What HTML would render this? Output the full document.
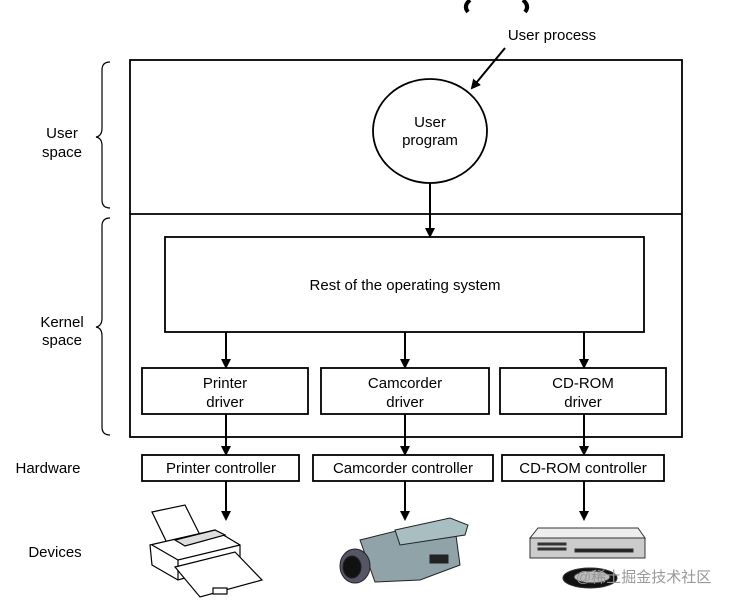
<!DOCTYPE html>
<html><head><meta charset="utf-8"><style>
body{margin:0;background:#fff;}
svg{display:block;}
text{font-family:"Liberation Sans","Noto Sans CJK SC",sans-serif;font-size:15px;fill:#000;}
</style></head><body>
<svg width="733" height="602" viewBox="0 0 733 602" xmlns="http://www.w3.org/2000/svg">
<defs><marker id="a" markerWidth="10" markerHeight="10" refX="8" refY="5" orient="auto" markerUnits="userSpaceOnUse"><path d="M0,0 L10,5 L0,10 z" fill="#000"/></marker></defs>
<!-- partial (a) -->
<path d="M470,0 Q463,6 468,12" stroke="#000" stroke-width="4" fill="none"/>
<path d="M523,0 Q530,6 525,12" stroke="#000" stroke-width="4" fill="none"/>
<g stroke="#000" stroke-width="1.8" fill="none">
<rect x="130" y="60" width="552" height="377"/>
<line x1="130" y1="214" x2="682" y2="214"/>
<ellipse cx="430" cy="131" rx="57" ry="52" fill="#fff"/>
<rect x="165" y="237" width="479" height="95"/>
<rect x="142" y="368" width="166" height="46"/>
<rect x="321" y="368" width="168" height="46"/>
<rect x="500" y="368" width="166" height="46"/>
<rect x="142" y="455" width="157" height="26"/>
<rect x="313" y="455" width="180" height="26"/>
<rect x="502" y="455" width="162" height="26"/>
<path d="M110,62 Q102,62 102,70 L102,128 Q102,136 96,137 Q102,138 102,146 L102,200 Q102,208 110,208" stroke-width="1.2"/>
<path d="M110,218 Q102,218 102,226 L102,318 Q102,326 96,327 Q102,328 102,336 L102,427 Q102,435 110,435" stroke-width="1.2"/>
</g>
<g stroke="#000" stroke-width="2" marker-end="url(#a)">
<line x1="505" y1="48" x2="472" y2="88"/>
<line x1="430" y1="183" x2="430" y2="236"/>
<line x1="226" y1="332" x2="226" y2="367"/>
<line x1="405" y1="332" x2="405" y2="367"/>
<line x1="584" y1="332" x2="584" y2="367"/>
<line x1="226" y1="414" x2="226" y2="454"/>
<line x1="405" y1="414" x2="405" y2="454"/>
<line x1="584" y1="414" x2="584" y2="454"/>
<line x1="226" y1="481" x2="226" y2="519"/>
<line x1="405" y1="481" x2="405" y2="519"/>
<line x1="584" y1="481" x2="584" y2="519"/>
</g>
<g text-anchor="middle">
<text x="552" y="40">User process</text>
<text x="430" y="127">User</text>
<text x="430" y="145">program</text>
<text x="405" y="290">Rest of the operating system</text>
<text x="225" y="388">Printer</text><text x="225" y="407">driver</text>
<text x="405" y="388">Camcorder</text><text x="405" y="407">driver</text>
<text x="583" y="388">CD-ROM</text><text x="583" y="407">driver</text>
<text x="221" y="473">Printer controller</text>
<text x="403" y="473">Camcorder controller</text>
<text x="583" y="473">CD-ROM controller</text>
<text x="62" y="138">User</text><text x="62" y="157">space</text>
<text x="62" y="327">Kernel</text><text x="62" y="345">space</text>
<text x="48" y="473">Hardware</text>
<text x="55" y="557">Devices</text>
</g>
<!-- printer -->
<g stroke="#000" stroke-width="1.2" fill="#fff">
<path d="M152,512 L185,505 L200,535 L168,545 z"/>
<path d="M150,545 L215,530 L240,545 L240,562 L178,580 L152,565 z"/>
<path d="M152,545 L178,560 L240,545"/>
<path d="M178,560 L178,580"/>
<path d="M175,567 L235,552 L262,580 L200,597 z"/>
<rect x="213" y="588" width="14" height="6"/>
<path d="M175,540 L215,530 L225,535 L185,546 z" fill="#ddd"/>
</g>
<!-- camcorder -->
<g stroke="#222" stroke-width="1">
<path d="M360,540 L420,525 L455,528 L460,565 L420,580 L375,582 Z" fill="#8fa3a8"/>
<path d="M395,530 L450,518 L468,525 L465,535 L400,545 Z" fill="#a9bec2"/>
<ellipse cx="355" cy="566" rx="15" ry="17" fill="#556"/>
<ellipse cx="352" cy="567" rx="9" ry="11" fill="#111"/>
<rect x="430" y="555" width="18" height="8" fill="#222"/>
</g>
<!-- CD-ROM -->
<g stroke="#333" stroke-width="1">
<path d="M538,528 L638,528 L645,538 L530,538 Z" fill="#eee"/>
<rect x="530" y="538" width="115" height="20" fill="#ccc"/>
<rect x="538" y="543" width="28" height="2" fill="#333"/>
<rect x="538" y="548" width="28" height="2" fill="#333"/>
<rect x="575" y="549" width="58" height="3" fill="#222"/>
<ellipse cx="590" cy="578" rx="27" ry="10" fill="#111"/>
<ellipse cx="592" cy="577" rx="18" ry="6" fill="#bbb"/>
</g>
<text x="576" y="582" style="font-size:15px;fill:#999">@稀土掘金技术社区</text>
</svg>
</body></html>
